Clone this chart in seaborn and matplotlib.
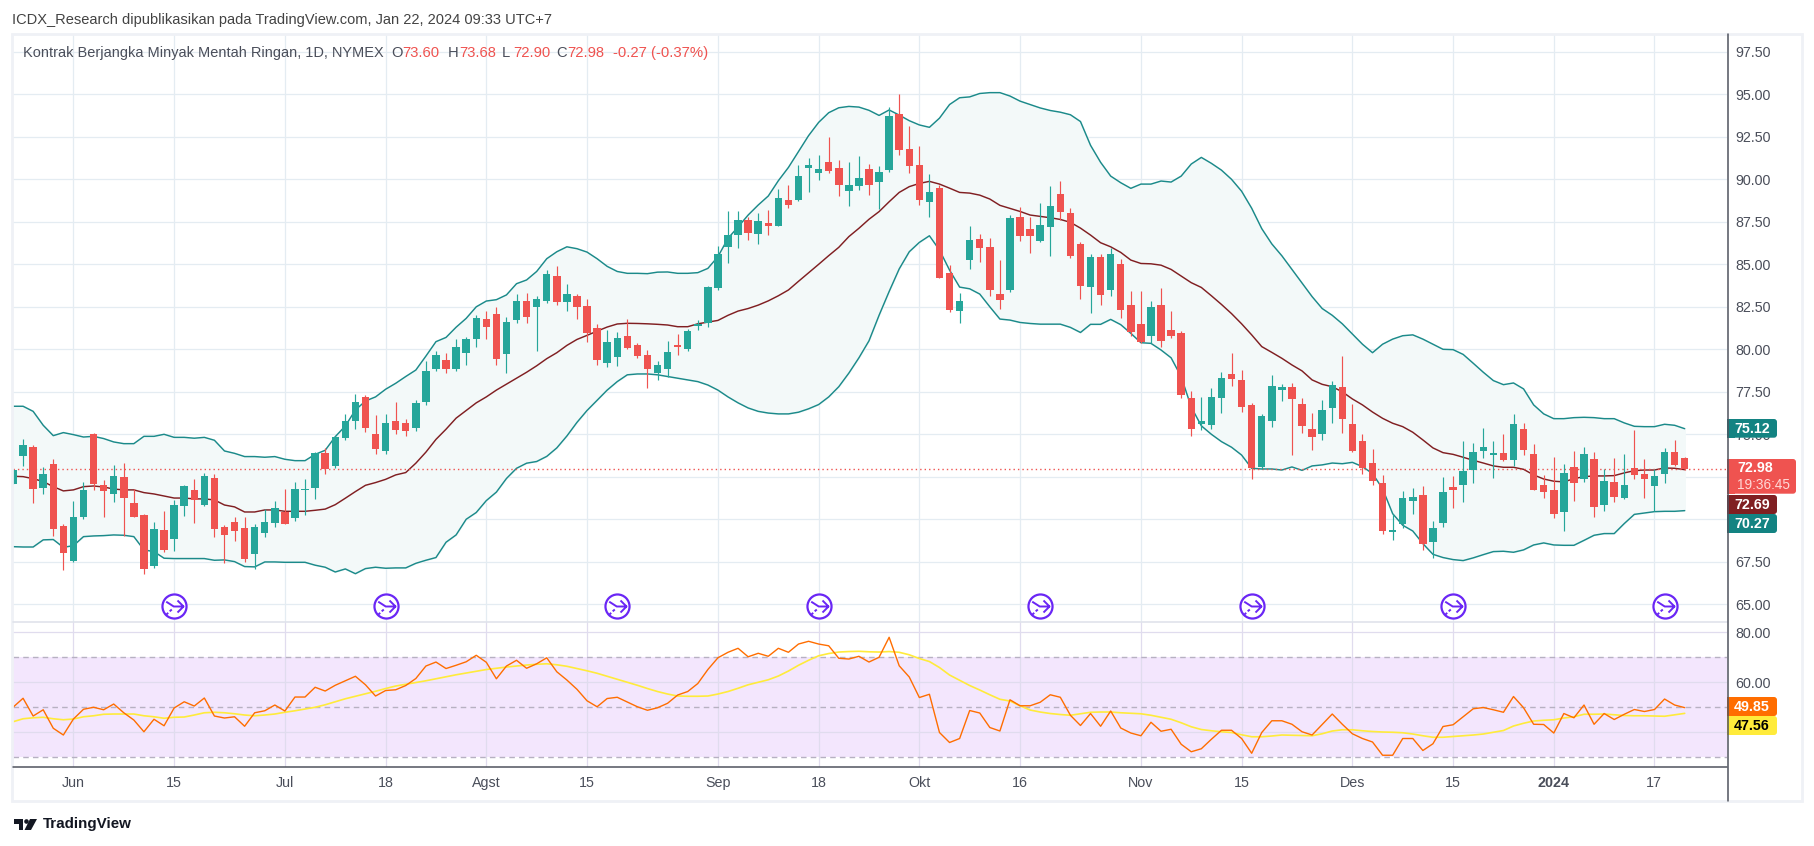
import matplotlib
matplotlib.use("Agg")
import matplotlib.pyplot as plt
from matplotlib.patches import Rectangle, FancyBboxPatch, Circle, Polygon
from matplotlib.path import Path
from matplotlib.transforms import Affine2D
import pandas as pd
import seaborn as sns

opens = [72.08,73.73,74.25,71.84,73.26,69.61,67.57,70.14,75.02,72.02,
         71.49,72.49,70.96,70.25,67.26,69.37,68.84,70.78,71.73,70.84,
         72.43,69.55,69.84,69.49,67.96,69.2,69.78,70.43,70.08,71.73,
         71.84,73.9,73.14,74.78,75.78,77.2,75.02,74.02,75.78,75.65,
         75.4,76.9,78.84,79.37,78.84,79.78,80.6,81.78,82.07,79.72,
         81.72,82.84,82.49,82.84,84.31,82.78,83.13,82.54,81.25,79.19,
         79.54,80.78,80.25,79.66,78.6,78.84,80.25,80.04,81.4,81.55,
         83.61,86.04,86.72,87.61,86.78,87.43,87.25,88.78,88.78,90.66,
         90.37,91.02,90.66,89.31,89.61,90.6,89.84,90.55,93.84,91.78,
         90.84,88.66,89.48,84.48,82.25,85.25,86.49,86.02,83.25,83.49,
         87.78,87.07,86.37,87.19,89.13,88.02,86.19,83.66,85.43,83.48,
         85.01,82.6,81.48,80.78,82.6,81.13,80.96,77.14,75.61,75.55,
         77.14,78.55,78.2,76.73,73.08,75.79,77.6,77.78,76.78,75.31,
         75.02,76.55,77.78,75.61,74.61,73.29,72.12,69.24,69.71,71.06,
         71.41,68.65,69.76,71.88,72.0,72.88,74.0,73.76,73.88,73.47,
         75.29,73.82,72.0,71.71,70.41,73.06,72.35,73.53,70.82,72.18,
         71.24,73.0,72.65,71.94,72.65,73.94,73.6]
highs = [72.95,74.73,74.37,73.08,73.55,69.73,71.08,72.2,75.08,72.3,
         73.2,73.31,71.78,70.3,69.84,70.49,71.14,72.02,72.37,72.73,
         72.67,69.67,70.14,70.14,69.73,70.6,71.08,71.78,72.2,72.37,
         73.96,74.2,74.9,76.2,77.37,77.31,76.14,76.2,76.9,75.9,
         77.0,79.31,79.9,79.78,80.6,80.72,82.02,82.25,82.49,81.9,
         83.25,83.31,83.13,84.66,84.9,83.84,83.25,82.96,81.49,81.13,
         81.02,81.78,80.37,79.96,79.31,80.49,80.9,81.2,81.75,83.75,
         86.08,88.14,88.14,87.78,88.02,88.2,89.43,89.66,90.84,91.25,
         91.43,92.49,91.14,91.02,91.37,90.9,90.78,94.25,95.0,93.14,
         91.96,90.31,89.66,84.96,83.31,87.25,86.78,86.54,85.25,87.9,
         88.37,87.78,88.6,89.6,89.9,88.31,86.31,85.6,85.6,85.96,
         85.31,83.43,83.43,82.84,83.6,82.25,81.07,77.55,77.2,77.72,
         78.67,79.78,78.78,76.84,76.2,78.49,77.96,78.02,77.14,76.26,
         77.02,78.14,79.61,76.78,75.02,74.12,72.59,70.29,71.65,71.82,
         71.94,69.88,72.47,72.53,74.59,74.47,75.35,74.59,75.0,76.18,
         75.65,74.41,72.59,73.65,73.24,74.0,74.24,73.94,72.94,73.59,
         73.82,75.24,73.53,72.94,74.18,74.65,73.68]
lows = [72.08,73.14,70.96,71.49,69.02,67.02,67.5,70.02,71.73,70.14,
        71.02,69.0,70.14,66.79,67.16,68.08,68.14,70.2,69.78,70.78,
        68.96,67.41,68.75,67.5,67.1,68.96,69.55,69.73,69.9,70.25,
        71.2,72.67,73.02,74.67,75.31,75.14,73.84,73.84,75.02,74.9,
        75.2,76.7,78.7,78.6,78.75,79.07,80.13,80.6,79.07,78.6,
        81.54,81.54,79.9,82.72,82.6,82.25,81.78,80.43,79.07,78.96,
        79.02,80.02,79.49,77.7,78.2,78.4,79.66,79.9,81.15,81.3,
        83.49,85.08,85.96,86.43,86.19,86.72,87.25,88.31,88.72,89.25,
        89.96,90.37,89.02,88.43,89.37,89.08,88.25,90.43,91.43,90.37,
        88.49,87.78,84.19,82.19,81.54,84.72,85.13,83.13,82.37,83.37,
        86.37,85.66,86.31,85.48,87.6,85.37,82.96,82.13,82.6,83.13,
        81.84,80.78,80.37,80.37,80.13,80.66,77.13,74.9,75.26,75.31,
        76.26,77.84,76.31,72.37,72.96,75.43,76.96,73.78,75.08,74.08,
        74.67,75.67,75.08,73.96,72.67,72.0,69.12,68.76,69.47,70.29,
        68.18,67.71,69.53,70.65,71.0,72.12,73.59,72.41,73.41,73.12,
        73.76,71.71,71.24,70.06,69.29,71.06,72.18,70.12,70.47,71.0,
        71.18,72.35,71.24,70.47,72.12,73.12,72.9]
closes = [72.9,74.37,71.78,72.67,69.43,68.04,70.14,71.73,72.08,71.67,
          72.55,71.25,70.14,67.08,69.43,68.2,70.84,71.96,71.14,72.55,
          69.43,69.08,69.31,67.67,69.55,69.84,70.67,69.73,71.78,71.78,
          73.9,72.96,74.84,75.78,76.9,75.37,74.14,75.67,75.25,75.2,
          76.85,78.7,79.66,78.85,80.13,80.6,81.84,81.31,79.43,81.6,
          82.84,81.9,82.96,84.43,82.78,83.25,82.49,80.96,79.37,80.43,
          80.66,80.07,79.6,78.84,79.07,79.84,80.13,81.1,81.5,83.65,
          85.6,86.72,87.61,86.84,87.55,87.25,88.9,88.49,90.19,90.84,
          90.6,90.49,89.66,89.66,90.08,89.66,90.43,93.72,91.72,90.78,
          88.78,89.25,84.19,82.31,82.84,86.43,85.96,83.49,82.9,87.72,
          86.66,86.66,87.31,88.43,88.07,85.48,83.72,85.43,83.19,85.6,
          82.31,81.01,80.43,82.48,80.48,80.78,77.31,75.31,75.79,77.2,
          78.31,78.26,76.61,73.02,76.08,77.84,77.78,77.08,75.49,74.84,
          76.43,77.9,75.9,74.02,73.02,72.24,69.29,69.35,71.24,71.29,
          68.53,69.47,71.59,71.71,72.82,73.94,74.24,73.88,73.47,75.59,
          74.06,71.71,71.59,70.29,72.71,72.12,73.82,70.71,72.24,71.29,
          72.0,72.59,72.35,72.53,73.94,73.18,72.98]

bb_upper = [76.65,76.65,76.35,75.53,74.92,75.1,74.98,74.84,74.88,74.75,
            74.55,74.45,74.45,74.88,74.88,75.0,74.82,74.82,74.77,74.82,
            74.65,74.02,73.88,73.69,73.69,73.65,73.69,73.53,73.45,73.45,
            73.82,74.06,74.86,75.49,76.43,76.96,77.2,77.65,78.0,78.4,
            78.78,79.6,80.45,80.7,81.3,81.82,82.5,82.84,82.92,83.2,
            83.86,84.08,84.58,85.33,85.74,86.03,85.92,85.72,85.33,84.88,
            84.58,84.47,84.47,84.45,84.54,84.55,84.47,84.47,84.51,84.76,
            85.45,86.53,87.2,87.9,88.49,89.02,89.92,90.7,91.63,92.57,
            93.35,93.92,94.21,94.29,94.25,94.06,93.76,94.08,93.78,93.45,
            93.2,93.06,93.6,94.4,94.8,94.85,95.05,95.1,95.1,94.9,
            94.6,94.4,94.2,94.05,93.95,93.8,93.4,92.0,91.0,90.19,
            89.8,89.47,89.72,89.72,89.9,89.84,90.19,90.9,91.29,90.94,
            90.54,90.0,89.3,88.3,87.1,86.2,85.5,84.7,83.9,83.1,
            82.4,82.0,81.5,80.9,80.3,79.8,80.3,80.6,80.8,80.85,
            80.6,80.3,80.0,79.98,79.7,79.18,78.65,78.16,77.92,78.02,
            77.67,76.73,76.2,75.92,75.92,75.98,76.0,75.98,75.92,75.92,
            75.67,75.47,75.45,75.45,75.59,75.53,75.33]
bb_basis = [72.53,72.51,72.39,72.22,71.92,71.67,71.73,71.92,71.96,71.9,
            71.78,71.73,71.73,71.57,71.49,71.37,71.25,71.25,71.2,71.2,
            71.14,70.84,70.73,70.43,70.43,70.55,70.55,70.47,70.47,70.47,
            70.53,70.6,70.86,71.24,71.63,72.0,72.16,72.35,72.61,72.75,
            73.3,73.95,74.7,75.3,75.95,76.4,76.85,77.2,77.6,77.95,
            78.3,78.65,79.03,79.45,79.8,80.23,80.58,80.82,81.07,81.31,
            81.49,81.53,81.52,81.5,81.47,81.43,81.33,81.33,81.5,81.6,
            81.7,82.0,82.25,82.4,82.6,82.85,83.15,83.49,84.0,84.5,
            85.0,85.51,86.0,86.63,87.12,87.65,88.1,88.68,89.23,89.57,
            89.76,89.88,89.72,89.48,89.23,89.19,89.07,88.84,88.47,88.29,
            88.11,87.9,87.82,87.74,87.64,87.47,87.13,86.72,86.27,86.03,
            85.7,85.25,85.05,85.03,84.95,84.7,84.31,83.92,83.64,83.15,
            82.64,82.1,81.5,80.85,80.16,79.82,79.47,79.08,78.73,78.2,
            77.94,77.8,77.5,77.08,76.73,76.31,75.94,75.65,75.45,75.12,
            74.67,74.2,73.92,73.82,73.65,73.47,73.31,73.14,73.06,73.06,
            72.94,72.61,72.37,72.24,72.2,72.39,72.51,72.55,72.55,72.57,
            72.73,72.86,72.9,72.9,73.02,73.0,72.92]
bb_lower = [68.39,68.37,68.37,68.79,68.81,68.35,68.45,68.98,69.02,69.04,
            69.08,69.06,68.98,68.2,68.1,67.71,67.69,67.69,67.69,67.69,
            67.59,67.61,67.51,67.22,67.2,67.49,67.49,67.47,67.47,67.47,
            67.3,67.18,66.9,67.08,66.8,67.1,67.18,67.12,67.14,67.14,
            67.41,67.59,67.75,68.65,69.08,70.0,70.4,71.1,71.6,72.4,
            73.0,73.3,73.4,73.7,74.2,74.9,75.7,76.4,77.0,77.6,
            78.1,78.5,78.55,78.55,78.5,78.4,78.3,78.2,78.1,77.9,
            77.6,77.2,76.85,76.55,76.35,76.25,76.2,76.2,76.3,76.5,
            76.75,77.2,77.8,78.6,79.5,80.5,82.0,83.4,84.73,85.74,
            86.29,86.68,85.84,84.66,83.66,83.56,83.25,82.5,81.78,81.72,
            81.58,81.52,81.48,81.48,81.48,81.29,80.99,81.47,81.47,81.76,
            81.45,80.94,80.39,80.35,79.96,79.5,78.39,76.6,75.5,75.0,
            74.57,74.24,73.78,73.0,72.96,72.96,72.9,73.08,72.88,73.14,
            73.2,73.31,73.27,73.35,73.1,72.69,71.8,70.33,69.65,69.31,
            68.57,67.94,67.75,67.63,67.57,67.73,67.92,68.1,68.12,68.06,
            68.2,68.49,68.61,68.49,68.47,68.47,68.76,69.06,69.16,69.16,
            69.75,70.29,70.37,70.45,70.47,70.47,70.51]

rsi = [50,53.6,46.5,49,41.6,38.9,45.3,49.2,50,49,
       51.3,47.8,44.9,40.2,45.2,42.6,49.7,52.2,50.5,53.7,
       46.5,45.7,46.2,42.4,47.8,48.6,50.9,48.5,54.1,54.1,
       58,56.5,58.8,60.6,62.4,59,54.5,56.7,57,58.7,
       61.5,66.5,68.1,65.5,66.8,68.2,70.8,68,61.4,66.5,
       68.8,65.6,67.4,69.8,64.2,60.9,57.2,52.6,50.2,53.5,
       54,52.1,50.2,48.8,49.8,51.6,54.9,56.3,59.5,65.1,
       69.8,72,73.6,70.2,71.6,70.4,73.6,72,75.3,76.4,
       75.3,74.6,69.6,69.3,70.4,68.1,70,78,66.6,62.1,
       53.9,55.2,39.9,35.9,37.5,48.7,47.7,41.9,40.5,53,
       50.6,50.6,52,55,54,46.8,42.7,47.5,42.4,48.5,
       41.7,39.7,38.6,44,40.4,41.2,35.2,32.2,33.4,37.2,
       40.8,40.8,37.5,31.6,39.9,44.6,44.6,43.2,40.2,38.9,
       43.1,47.3,43.2,39.4,37.5,36.1,30.8,30.8,37.5,37.5,
       32.7,35.4,42.3,43,46.2,49.4,49.9,49,48,54.3,
       49.8,43.2,43.1,39.7,47.5,45.8,50.9,43.2,47.5,45.1,
       47.2,49.1,48.3,49.1,53.3,50.9,49.85]
rsi_ma = [44.2,45.4,45.8,46,45.4,45,45.3,46.2,46.6,47.2,
          47.3,47.3,47.3,46.6,46.2,45.6,46,46.1,46.9,47.8,
          48,47.8,47.4,46.9,46.6,46.9,47.3,48,48.6,49.3,
          50,51,52.2,53.4,54.4,55.4,56.4,57.5,58.5,59.2,
          59.9,60.6,61.4,62.2,63,63.7,64.4,65.1,65.6,66.1,
          66.5,66.9,67.2,67.4,67,66.4,65.5,64.6,63.6,62.4,
          61.2,60,58.8,57.5,56.3,55.3,54.5,54.4,54.4,54.5,
          55.3,56.3,57.6,59,60,61,62.5,64.5,66.8,68.8,
          70.6,71.5,72.1,72.3,72.4,72.2,72.1,72.3,72,71,
          69.5,68.3,65.9,62.9,60.8,58.7,56.9,55,53.2,52.5,
          50.6,48.9,48.1,47.5,47.1,46.8,47.4,48,48.1,48.1,
          47.8,47.6,47.4,46.8,46,45.2,43.8,42.2,41.1,40.6,
          40.2,39.9,39,38.2,38.2,38.5,38.9,38.8,38.7,38.6,
          39.4,40.5,41,41,40.6,40.3,40.1,40,39.8,39.3,
          38.6,38,38,38.3,38.6,38.9,39.3,40,40.7,42.5,
          43.6,44.5,44.8,45,45.7,46.2,47.2,47.2,47.3,47,
          46.7,46.6,46.6,46.5,46.4,47,47.56]

time_pos = [6, 16, 27, 37, 47, 57, 70, 80, 90, 100, 112, 122, 133, 143, 153, 163]
time_lab = ["Jun", "15", "Jul", "18", "Agst", "15", "Sep", "18", "Okt", "16",
            "Nov", "15", "Des", "15", "2024", "17"]
price_ticks = [65, 67.5, 70, 72.5, 75, 77.5, 80, 82.5, 85, 87.5, 90, 92.5, 95, 97.5]
hidden_ticks = [70, 72.5]  # covered by the value tags in the original
rsi_ticks = [40, 60, 80]
event_idx = [16, 37, 60, 80, 102, 123, 143, 164]
event_level = 64.9
last_price = 72.98

UP, DOWN = "#26a69a", "#ef5350"
TEAL, MAROON = "#1b8a8a", "#801f22"
GRID = "#e4ecf2"
TXT = "#4a4e5a"
PURPLE = "#6a26f5"

W, H = 1815, 846
sns.set_style("white")
plt.rcParams["font.family"] = ["Liberation Sans", "DejaVu Sans"]

fig = plt.figure(figsize=(W / 100, H / 100), dpi=100)
px = Affine2D().scale(1, -1).translate(0, H)


def pane(x0, y0, x1, y1):
    return fig.add_axes([x0 / W, 1 - y1 / H, (x1 - x0) / W, (y1 - y0) / H])


ax = pane(13, 34, 1727, 622.3)
ax2 = pane(13, 622.3, 1727, 767)

df = pd.DataFrame({"bar": range(len(opens)), "open": opens, "high": highs, "low": lows,
                   "close": closes, "upper": bb_upper, "basis": bb_basis, "lower": bb_lower,
                   "rsi": rsi, "rsi_ma": rsi_ma})
df["color"] = [UP if c >= o else DOWN for o, c in zip(df["open"], df["close"])]

for a in (ax, ax2):
    a.set_xlim(0, 170.2)
    a.set_xticks(time_pos)
    a.grid(True, axis="both", color=GRID, lw=0.9)
    a.set_axisbelow(True)
    a.yaxis.tick_right()
    a.tick_params(length=0, pad=6, labelsize=10.3, labelcolor=TXT)
    for s in a.spines.values():
        s.set_visible(False)

ax.set_ylim(63.94, 98.55)
ax.set_yticks(price_ticks, ["" if v in hidden_ticks else f"{v:.2f}" for v in price_ticks])
ax.set_xticklabels([])
ax2.set_ylim(26.1, 84)
ax2.set_yticks(rsi_ticks, ["", "60.00", "80.00"])
ax2.set_xticklabels([])

# bollinger
ax.fill_between(df["bar"], df["lower"], df["upper"], color="#f3f9f9", zorder=1)
for col, c in (("upper", TEAL), ("lower", TEAL), ("basis", MAROON)):
    sns.lineplot(data=df, x="bar", y=col, ax=ax, color=c, lw=1.05, errorbar=None, zorder=2)
ax.axhline(last_price, color=DOWN, ls=(0, (1, 2.2)), lw=1.0, zorder=2.5)

# candles
ax.vlines(df["bar"], df["low"], df["high"], colors=df["color"], lw=0.85, zorder=3)
ax.bar(df["bar"], (df["close"] - df["open"]).abs(), bottom=df[["open", "close"]].min(axis=1),
       width=0.74, color=df["color"], lw=0, zorder=4)

# dividend/rollover style markers
glyph = Path([(-0.55, 0.32), (-0.05, 0.0), (0.6, 0.0), (0.2, 0.4), (0.6, 0.0), (0.2, -0.4),
              (-0.18, -0.2), (-0.32, -0.32), (-0.42, -0.42), (-0.55, -0.55)],
             [Path.MOVETO, Path.LINETO, Path.LINETO, Path.MOVETO, Path.LINETO, Path.LINETO,
              Path.MOVETO, Path.LINETO, Path.MOVETO, Path.LINETO])
ev = pd.DataFrame({"bar": event_idx, "y": event_level})
sns.scatterplot(data=ev, x="bar", y="y", ax=ax, s=300, facecolor="white", edgecolor=PURPLE,
                linewidth=1.6, zorder=5)
ax.plot(ev["bar"], ev["y"], ls="none", marker=glyph, ms=13, mfc="none", mec=PURPLE, mew=1.4, zorder=6)

# rsi pane
ax2.axhspan(30, 70, color="#f3e6fd", zorder=0.5, lw=0)
for lev in (70, 50, 30):
    ax2.axhline(lev, color="#b7b1c2", ls=(0, (4, 3)), lw=1.0, zorder=1.5)
sns.lineplot(data=df, x="bar", y="rsi_ma", ax=ax2, color="#ffeb3b", lw=1.2, errorbar=None, zorder=3)
sns.lineplot(data=df, x="bar", y="rsi", ax=ax2, color="#ff6d00", lw=1.0, errorbar=None, zorder=4)
for a in (ax, ax2):
    a.set_xlabel("")
    a.set_ylabel("")
ax2.grid(True, axis="both", color="#e0dcee", lw=0.9)

# frame and separators, all in picture pixels
fig.add_artist(Rectangle((11.5, 34), 1790, 767, transform=px, fill=False, ec="#eff1f6", lw=2))
fig.add_artist(plt.Line2D([13, 1727], [622.3, 622.3], transform=px, color="#e0e3eb", lw=1.2))
fig.add_artist(plt.Line2D([13, 1727], [767, 767], transform=px, color="#50535e", lw=1.1))
fig.add_artist(plt.Line2D([1727.5, 1727.5], [34, 801], transform=px, color="#50535e", lw=1.1))


def put(x, y, s, **kw):
    kw.setdefault("color", TXT)
    kw.setdefault("fontsize", 10.8)
    kw.setdefault("va", "center")
    fig.text(x, y, s, transform=px, **kw)


def tag(y0, y1, color, x1=1777):
    fig.add_artist(FancyBboxPatch((1727, y0), x1 - 1727, y1 - y0, transform=px, fc=color, ec="none",
                                  boxstyle="round,pad=0,rounding_size=3"))
    fig.add_artist(Rectangle((1727, y0), 8, y1 - y0, transform=px, fc=color, ec="none"))


tag(419, 437.7, "#138382")
put(1752, 428.5, "75.12", color="white", ha="center", fontsize=10.3, fontweight="bold")
tag(459, 493.7, DOWN, x1=1796)
put(1737, 468, "72.98", color="white", fontsize=10.3, fontweight="bold")
put(1737, 485, "19:36:45", color="#ffd9d7", fontsize=9.8)
tag(495, 514, "#801f22")
put(1752, 504.5, "72.69", color="white", ha="center", fontsize=10.3, fontweight="bold")
tag(514, 533, "#138382")
put(1752, 523.5, "70.27", color="white", ha="center", fontsize=10.3, fontweight="bold")
tag(697, 716, "#ff6d00")
put(1752, 706.5, "49.85", color="white", ha="center", fontsize=10.3, fontweight="bold")
tag(716, 735, "#ffeb3b")
put(1752, 725.5, "47.56", color="black", ha="center", fontsize=10.3, fontweight="bold")

# time axis labels
for p, lab in zip(time_pos, time_lab):
    put(12.9 + 10.07 * p, 783, lab, ha="center", fontsize=10.3,
        fontweight="bold" if lab == "2024" else "normal")

# header text
put(12, 20, "ICDX_Research dipublikasikan pada TradingView.com, Jan 22, 2024 09:33 UTC+7", color="#434343", fontsize=10.55)
put(23, 53, "Kontrak Berjangka Minyak Mentah Ringan, 1D, NYMEX", fontsize=10.45)
for x, k, v in ((391, "O", "73.60"), (448, "H", "73.68"), (502, "L", "72.90"), (556, "C", "72.98")):
    put(x, 53, k, fontsize=10.6)
    put(x + 11, 53, v, color=DOWN, fontsize=10.6)
put(613, 53, "-0.27 (-0.37%)", color=DOWN, fontsize=10.7)

# tradingview mark
fig.add_artist(Polygon([(14, 819), (23, 819), (23, 830), (19, 830), (19, 824), (14, 824)], closed=True,
                       transform=px, fc="#131722", ec="none"))
fig.add_artist(Circle((26.5, 821.5), 2.3, transform=px, fc="#131722", ec="none"))
fig.add_artist(Polygon([(30, 819), (37, 819), (31, 830), (24.5, 830)], closed=True, transform=px,
                       fc="#131722", ec="none"))
put(43, 824, "TradingView", color="#131722", fontsize=10.9, fontweight="bold")

fig.savefig("out.png", dpi=100)
